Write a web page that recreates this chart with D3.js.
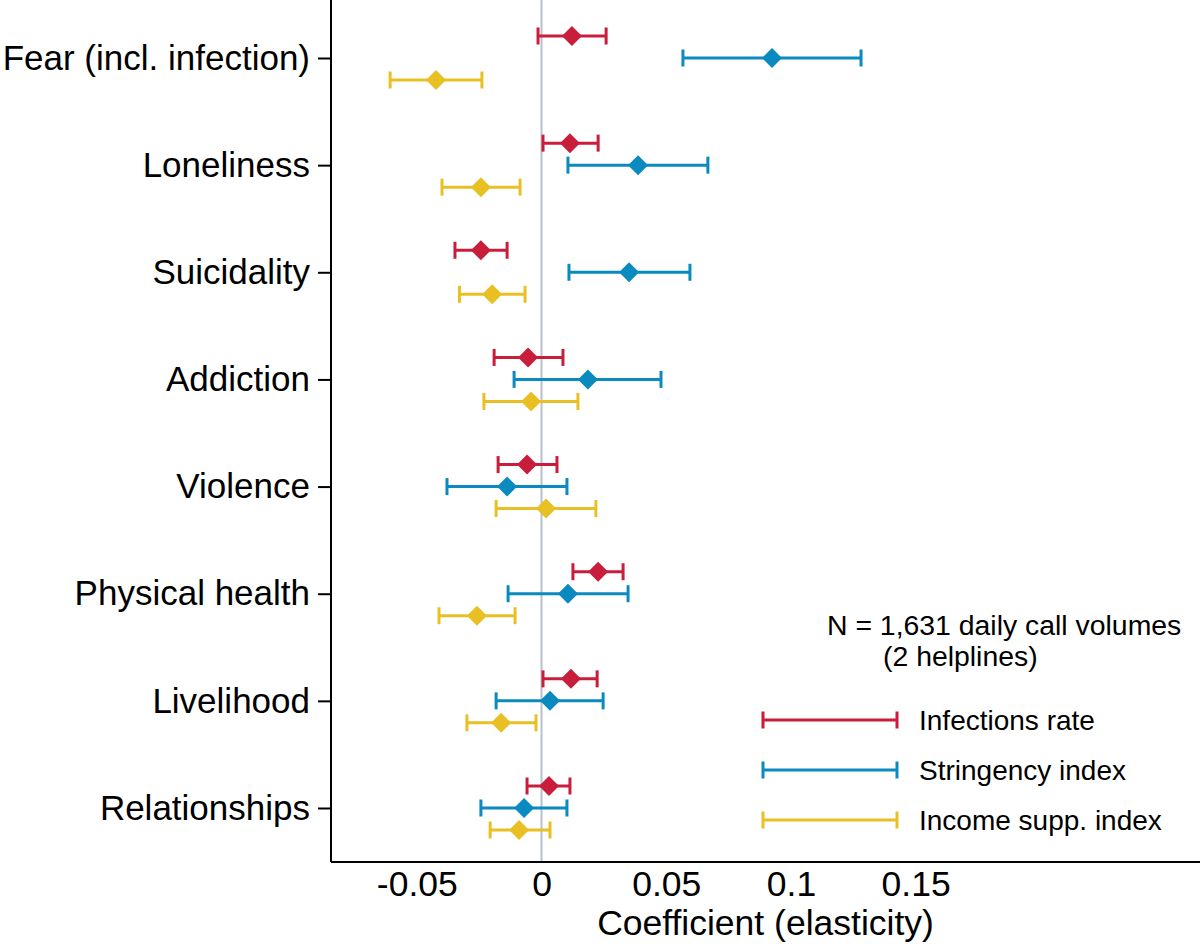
<!DOCTYPE html>
<html>
<head>
<meta charset="utf-8">
<script src="https://cdn.jsdelivr.net/npm/d3@7"></script>
<style>
  body { margin: 0; background: #fff; }
  svg { display: block; font-family: "Liberation Sans", Arial, sans-serif; }
</style>
</head>
<body>
<svg id="chart" width="1200" height="944"></svg>
<script>
// Categories (top to bottom) and the three regressors
var categories = ["Fear (incl. infection)", "Loneliness", "Suicidality", "Addiction",
                  "Violence", "Physical health", "Livelihood", "Relationships"];
var seriesNames = ["Infections rate", "Stringency index", "Income supp. index"];
var seriesColors = ["#c81e3c", "#0a8abf", "#e9c023"];

// Point estimates and 95% CI bounds, one array per series, in category order
var infectEst = [0.0122, 0.0114, -0.0243, -0.0054, -0.0058, 0.0227, 0.0118, 0.0030];
var infectLo  = [-0.0014, 0.0006, -0.0347, -0.0190, -0.0174, 0.0126, 0.0006, -0.0058];
var infectHi  = [0.0259, 0.0227, -0.0138, 0.0086, 0.0062, 0.0327, 0.0223, 0.0114];

var stringEst = [0.0924, 0.0387, 0.0351, 0.0186, -0.0138, 0.0106, 0.0034, -0.0070];
var stringLo  = [0.0567, 0.0106, 0.0110, -0.0110, -0.0379, -0.0134, -0.0182, -0.0243];
var stringHi  = [0.1281, 0.0667, 0.0595, 0.0479, 0.0102, 0.0347, 0.0247, 0.0102];

var incomeEst = [-0.0423, -0.0243, -0.0198, -0.0042, 0.0018, -0.0259, -0.0162, -0.0090];
var incomeLo  = [-0.0607, -0.0399, -0.0329, -0.0231, -0.0182, -0.0411, -0.0299, -0.0206];
var incomeHi  = [-0.0239, -0.0086, -0.0066, 0.0146, 0.0218, -0.0106, -0.0022, 0.0034];

var xTicks = [-0.05, 0, 0.05, 0.1, 0.15];
var xTickLabels = ["-0.05", "0", "0.05", "0.1", "0.15"];
var noteLines = ["N = 1,631 daily call volumes", "(2 helplines)"];

// Build rows for drawing
var estimates = [infectEst, stringEst, incomeEst];
var lows = [infectLo, stringLo, incomeLo];
var highs = [infectHi, stringHi, incomeHi];
var rows = [];
seriesNames.forEach(function(s, si) {
  categories.forEach(function(c, ci) {
    rows.push({cat: c, series: s, color: seriesColors[si],
               est: estimates[si][ci], lo: lows[si][ci], hi: highs[si][ci]});
  });
});

var svg = d3.select("#chart");
var plotLeft = 331, plotRight = 1200, plotTop = 0, plotBottom = 862;
var axisFont = 35.5;

var x = d3.scaleLinear()
  .domain([-0.0844, 0.2640])
  .range([plotLeft, plotRight]);

var y = d3.scalePoint()
  .domain(categories)
  .range([58, 808]);

var offset = d3.scalePoint()
  .domain(seriesNames)
  .range([-22, 22]);

var capHalf = 8.5;
var diamond = 10;

// zero reference line
svg.append("line")
  .attr("x1", x(0)).attr("x2", x(0))
  .attr("y1", plotTop).attr("y2", plotBottom)
  .attr("stroke", "#b7c0cc")
  .attr("stroke-width", 2);

// error bars
var g = svg.append("g").attr("class", "bars");
var bar = g.selectAll(".ci")
  .data(rows)
  .enter().append("g")
  .attr("class", "ci")
  .attr("transform", d => `translate(0, ${y(d.cat) + offset(d.series)})`);

bar.append("line")
  .attr("x1", d => x(d.lo)).attr("x2", d => x(d.hi))
  .attr("stroke", d => d.color)
  .attr("stroke-width", 3);

bar.append("line")
  .attr("x1", d => x(d.lo)).attr("x2", d => x(d.lo))
  .attr("y1", -capHalf).attr("y2", capHalf)
  .attr("stroke", d => d.color)
  .attr("stroke-width", 3);

bar.append("line")
  .attr("x1", d => x(d.hi)).attr("x2", d => x(d.hi))
  .attr("y1", -capHalf).attr("y2", capHalf)
  .attr("stroke", d => d.color)
  .attr("stroke-width", 3);

bar.append("path")
  .attr("d", d => {
    var cx = x(d.est);
    return `M${cx - diamond},0L${cx},${-diamond}L${cx + diamond},0L${cx},${diamond}Z`;
  })
  .attr("fill", d => d.color);

// y axis
var yAxis = svg.append("g")
  .attr("transform", `translate(${plotLeft}, 0)`)
  .call(d3.axisLeft(y).tickSize(13).tickPadding(8));
yAxis.select(".domain")
  .attr("d", `M0,${plotTop}V${plotBottom}`)
  .attr("stroke", "#000")
  .attr("stroke-width", 2);
yAxis.selectAll(".tick line").attr("stroke", "#000").attr("stroke-width", 2);
yAxis.selectAll(".tick text")
  .attr("font-size", 35)
  .attr("fill", "#000")
  .attr("font-family", "Liberation Sans, Arial, sans-serif");

// x axis
var xAxis = svg.append("g")
  .attr("transform", `translate(0, ${plotBottom})`)
  .call(d3.axisBottom(x)
    .tickValues(xTicks)
    .tickFormat((d, i) => xTickLabels[i])
    .tickSize(0)
    .tickPadding(9));
xAxis.select(".domain")
  .attr("d", `M${plotLeft},0H${plotRight}`)
  .attr("stroke", "#000")
  .attr("stroke-width", 2);
xAxis.selectAll(".tick text")
  .attr("font-size", axisFont)
  .attr("fill", "#000")
  .attr("font-family", "Liberation Sans, Arial, sans-serif");

// axis title, centred on the plot region
svg.append("text")
  .attr("x", (plotLeft + plotRight) / 2)
  .attr("y", 935)
  .attr("text-anchor", "middle")
  .attr("font-size", axisFont)
  .text("Coefficient (elasticity)");

// note
svg.append("text")
  .attr("x", 827).attr("y", 635)
  .attr("font-size", 28.4)
  .text(noteLines[0]);
svg.append("text")
  .attr("x", 883).attr("y", 666)
  .attr("font-size", 28.4)
  .text(noteLines[1]);

// legend
var legend = svg.append("g")
  .attr("transform", "translate(763, 720)");
var item = legend.selectAll(".item")
  .data(seriesNames)
  .enter().append("g")
  .attr("class", "item")
  .attr("transform", (d, i) => `translate(0, ${i * 50})`);

item.append("line")
  .attr("x1", 0).attr("x2", 134)
  .attr("stroke", (d, i) => seriesColors[i])
  .attr("stroke-width", 3);
item.append("line")
  .attr("x1", 0).attr("x2", 0)
  .attr("y1", -capHalf).attr("y2", capHalf)
  .attr("stroke", (d, i) => seriesColors[i])
  .attr("stroke-width", 3);
item.append("line")
  .attr("x1", 134).attr("x2", 134)
  .attr("y1", -capHalf).attr("y2", capHalf)
  .attr("stroke", (d, i) => seriesColors[i])
  .attr("stroke-width", 3);
item.append("text")
  .attr("x", 156)
  .attr("y", 10)
  .attr("font-size", 28)
  .text(d => d);
</script>
</body>
</html>
